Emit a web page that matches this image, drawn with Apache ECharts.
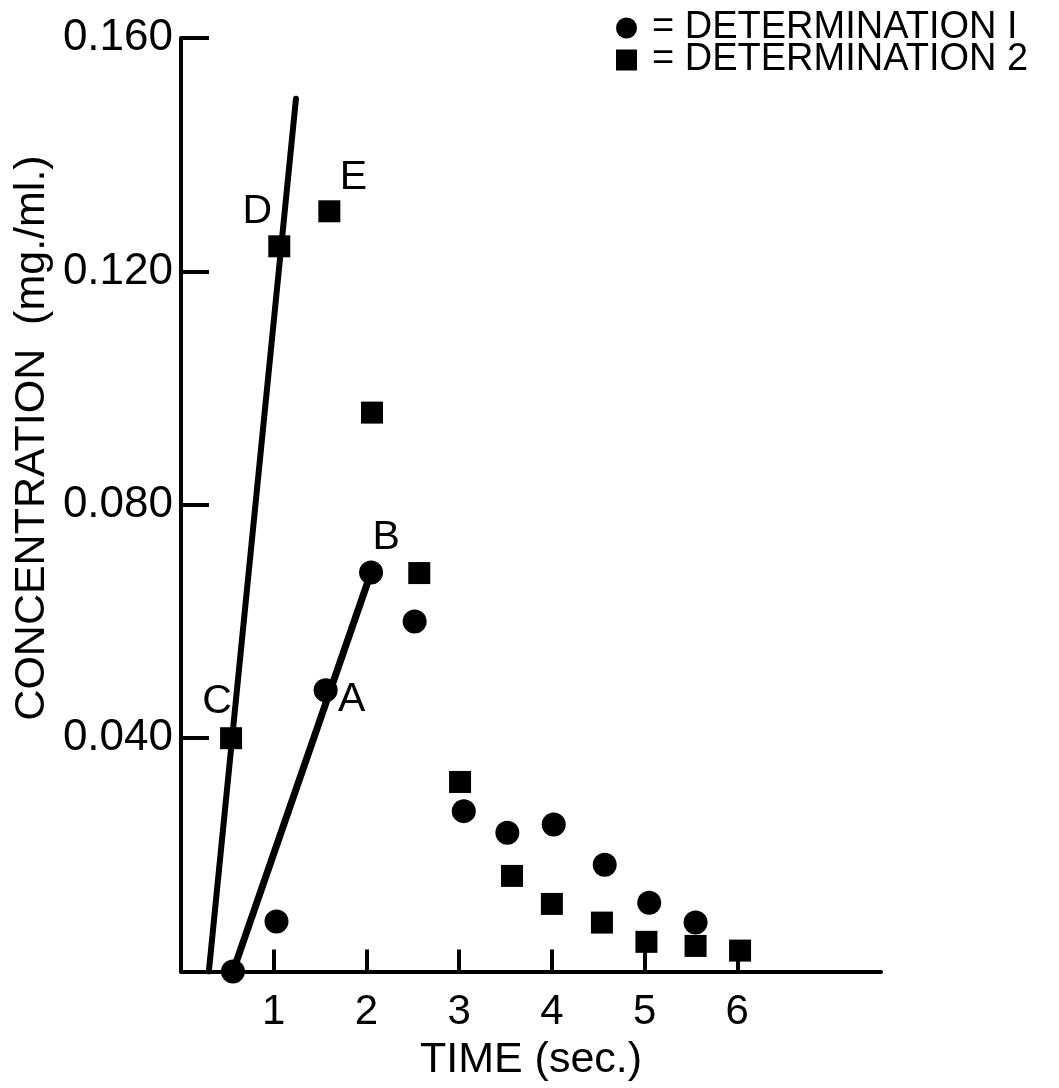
<!DOCTYPE html>
<html>
<head>
<meta charset="utf-8">
<script src="https://cdn.jsdelivr.net/npm/echarts@6/dist/echarts.min.js"></script>
<style>
html,body{margin:0;padding:0;background:#fff;}
#chart{width:1059px;height:1088px;}
</style>
</head>
<body>
<div id="chart"></div>
<script>
// ---- data ----
const det1Name = 'DETERMINATION I';
const det2Name = 'DETERMINATION 2';
const det1X = [0.56, 1.03, 1.56, 2.05, 2.52, 3.05, 3.52, 4.02, 4.57, 5.05, 5.55];
const det1Y = [0.0, 0.0086, 0.0482, 0.0684, 0.0600, 0.0275, 0.0238, 0.0252, 0.0183, 0.0118, 0.0084];
const det1Labels = ['', '', 'A', 'B', '', '', '', '', '', '', ''];
const det2X = [0.54, 1.06, 1.60, 2.06, 2.57, 3.01, 3.57, 4.00, 4.54, 5.02, 5.55, 6.03];
const det2Y = [0.0400, 0.1243, 0.1303, 0.0958, 0.0683, 0.0325, 0.0164, 0.0116, 0.0084, 0.0051, 0.0044, 0.0036];
const det2Labels = ['C', 'D', 'E', '', '', '', '', '', '', '', '', ''];
const lineCDX = [0.30, 1.24];
const lineCDY = [0.0, 0.1496];
const lineABX = [0.56, 2.05];
const lineABY = [0.0, 0.0684];
const xTickValues = [1, 2, 3, 4, 5, 6];
const xTickLabels = ['1', '2', '3', '4', '5', '6'];
const yTickValues = [0.04, 0.08, 0.12, 0.16];
const yTickLabels = ['0.040', '0.080', '0.120', '0.160'];
const xAxisTitle = 'TIME (sec.)';
const yAxisTitle = 'CONCENTRATION  (mg./ml.)';

// ---- styling (positions of point letters) ----
const FONT = 'Liberation Sans';
const labelOffsets = {A: [26, 9], B: [15, -35], C: [-14, -37], D: [-22, -35], E: [24, -34]};

function pts(xs, ys, labels) {
  return xs.map((x, i) => {
    const item = {value: [x, ys[i]]};
    const l = labels ? labels[i] : '';
    if (l) {
      item.label = {show: true, formatter: l, position: 'inside', offset: labelOffsets[l],
        color: '#000', fontSize: 41, fontFamily: FONT};
    }
    return item;
  });
}

const chart = echarts.init(document.getElementById('chart'));
chart.setOption({
  animation: false,
  backgroundColor: '#fff',
  grid: {left: 181, top: 38, width: 700, height: 933.6, containLabel: false},
  legend: {
    orient: 'vertical', left: 611, top: 4, itemGap: -6, itemWidth: 21, itemHeight: 21,
    data: [det1Name, det2Name],
    formatter: n => '= ' + n,
    textStyle: {fontSize: 38, lineHeight: 34, color: '#000', fontFamily: FONT, padding: [0, 0, 0, 10]}
  },
  xAxis: {
    type: 'value', min: 0, max: 7.55,
    name: xAxisTitle, nameLocation: 'middle', nameGap: 64,
    nameTextStyle: {fontSize: 43, color: '#000', fontFamily: FONT},
    axisLine: {show: true, onZero: false, lineStyle: {color: '#000', width: 4, cap: 'round'}},
    axisTick: {show: true, inside: true, length: 22, lineStyle: {color: '#000', width: 4}, customValues: xTickValues},
    axisLabel: {show: true, margin: 20, customValues: xTickValues,
      formatter: v => xTickLabels[xTickValues.indexOf(v)] || '',
      fontSize: 42, color: '#000', fontFamily: FONT},
    splitLine: {show: false}
  },
  yAxis: {
    type: 'value', min: 0, max: 0.16,
    axisLine: {show: true, onZero: false, lineStyle: {color: '#000', width: 4}},
    axisTick: {show: true, inside: true, length: 28, lineStyle: {color: '#000', width: 4}, customValues: yTickValues},
    axisLabel: {show: true, margin: 8, customValues: yTickValues,
      formatter: v => {
        const i = yTickValues.findIndex(t => Math.abs(t - v) < 1e-9);
        return i >= 0 ? yTickLabels[i] : '';
      },
      fontSize: 44, color: '#000', fontFamily: FONT},
    splitLine: {show: false}
  },
  graphic: [{
    type: 'text', x: 32, y: 438, rotation: Math.PI / 2,
    style: {text: yAxisTitle, fill: '#000', fontSize: 43, fontFamily: FONT,
      align: 'center', verticalAlign: 'middle'}
  }],
  series: [
    {type: 'line', data: lineCDX.map((x, i) => [x, lineCDY[i]]), symbol: 'none', silent: true,
      lineStyle: {color: '#000', width: 6, cap: 'round'}, z: 1},
    {type: 'line', data: lineABX.map((x, i) => [x, lineABY[i]]), symbol: 'none', silent: true,
      lineStyle: {color: '#000', width: 7, cap: 'round'}, z: 1},
    {name: det1Name, type: 'scatter', symbol: 'circle', symbolSize: 24,
      itemStyle: {color: '#000', opacity: 1}, data: pts(det1X, det1Y, det1Labels), z: 3},
    {name: det2Name, type: 'scatter', symbol: 'rect', symbolSize: 22,
      itemStyle: {color: '#000', opacity: 1}, data: pts(det2X, det2Y, det2Labels), z: 3}
  ]
});
</script>
</body>
</html>
